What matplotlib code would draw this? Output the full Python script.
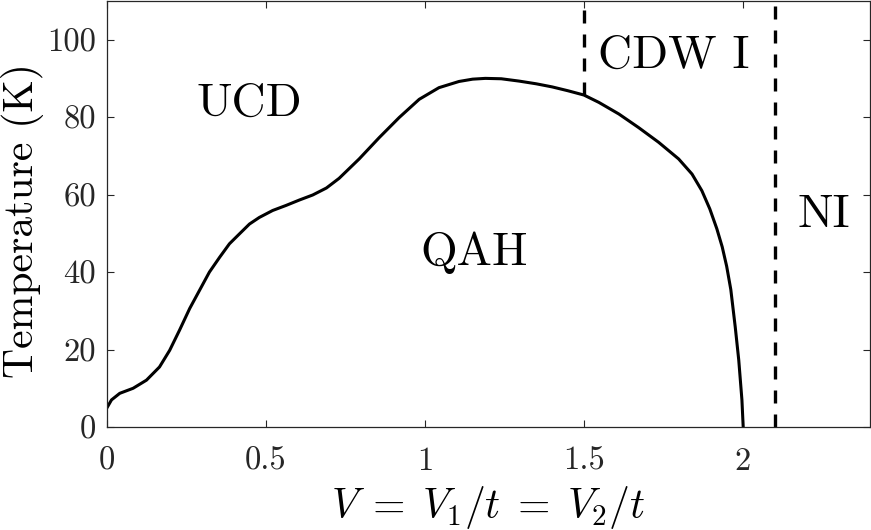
import matplotlib
matplotlib.use("Agg")
import matplotlib.pyplot as plt

# phase boundary T_c(V)
v = [0.0, 0.014, 0.04, 0.082, 0.124, 0.165, 0.197, 0.228, 0.26, 0.291,
     0.322, 0.354, 0.385, 0.417, 0.448, 0.479, 0.521, 0.563, 0.605, 0.647,
     0.69, 0.73, 0.793, 0.856, 0.919, 0.982, 1.044, 1.107, 1.15, 1.19,
     1.24, 1.296, 1.35, 1.4, 1.45, 1.5, 1.547, 1.61, 1.672, 1.735, 1.798,
     1.84, 1.871, 1.896, 1.918, 1.935, 1.949, 1.962, 1.976, 1.987, 1.997,
     2.001]
tc = [5.0, 7.0, 8.7, 10.0, 12.1, 15.5, 19.8, 25.0, 30.6, 35.3,
      40.0, 43.8, 47.3, 49.9, 52.4, 54.1, 55.9, 57.2, 58.6, 59.9,
      61.7, 64.2, 69.2, 74.7, 79.9, 84.6, 87.6, 89.2, 89.8, 90.0,
      89.9, 89.3, 88.6, 87.8, 86.8, 85.7, 83.8, 80.8, 77.3, 73.5, 69.2,
      65.3, 61.0, 56.3, 51.2, 46.5, 41.5, 35.5, 25.8, 17.3, 7.0,
      0.0]

cdw_v = 1.5
cdw_top = 85.7
ni_v = 2.1

phases = ["UCD", "QAH", "CDW I", "NI"]
phase_x = [0.448, 1.154, 1.782, 2.256]
phase_y = [80.3, 41.7, 92.8, 51.6]

xticks = [0, 0.5, 1, 1.5, 2]
xticklabels = ["0", "0.5", "1", "1.5", "2"]
yticks = [0, 20, 40, 60, 80, 100]
yticklabels = ["0", "20", "40", "60", "80", "100"]

plt.rcParams["font.family"] = "serif"
plt.rcParams["font.serif"] = ["cmr10"]
plt.rcParams["mathtext.fontset"] = "cm"
plt.rcParams["axes.formatter.use_mathtext"] = True

fig = plt.figure(figsize=(8.71, 5.30), dpi=100)
ax = fig.add_axes([0.1229, 0.1943, 0.8760, 0.8040])

ax.plot(v, tc, color="black", lw=2.2)
ax.plot([cdw_v, cdw_v], [cdw_top, 110], color="black", lw=2.4,
        linestyle=(0, (3.9, 3.3)))
ax.plot([ni_v, ni_v], [0, 110], color="black", lw=2.4,
        linestyle=(0, (3.9, 3.3)))

for name, px, py in zip(phases, phase_x, phase_y):
    ax.text(px, py, name, fontsize=34, ha="center", va="baseline")

ax.set_xlim(0, 2.4)
ax.set_ylim(0, 110)
ax.set_xticks(xticks)
ax.set_xticklabels(xticklabels)
ax.set_yticks(yticks)
ax.set_yticklabels(yticklabels)
ax.tick_params(axis="both", direction="in", top=True, right=True,
               length=5, width=0.8, colors="#262626", labelsize=23.5)
ax.tick_params(axis="x", pad=14)
ax.tick_params(axis="y", pad=8)
for s in ax.spines.values():
    s.set_linewidth(0.9)
    s.set_color("#262626")

ax.set_xlabel(r"$V\;=\;V_1/t\;=\;V_2/t$", fontsize=30, labelpad=6)
ax.set_ylabel("Temperature (K)", fontsize=30, labelpad=2, y=0.484)

fig.savefig("out.png", dpi=100)
